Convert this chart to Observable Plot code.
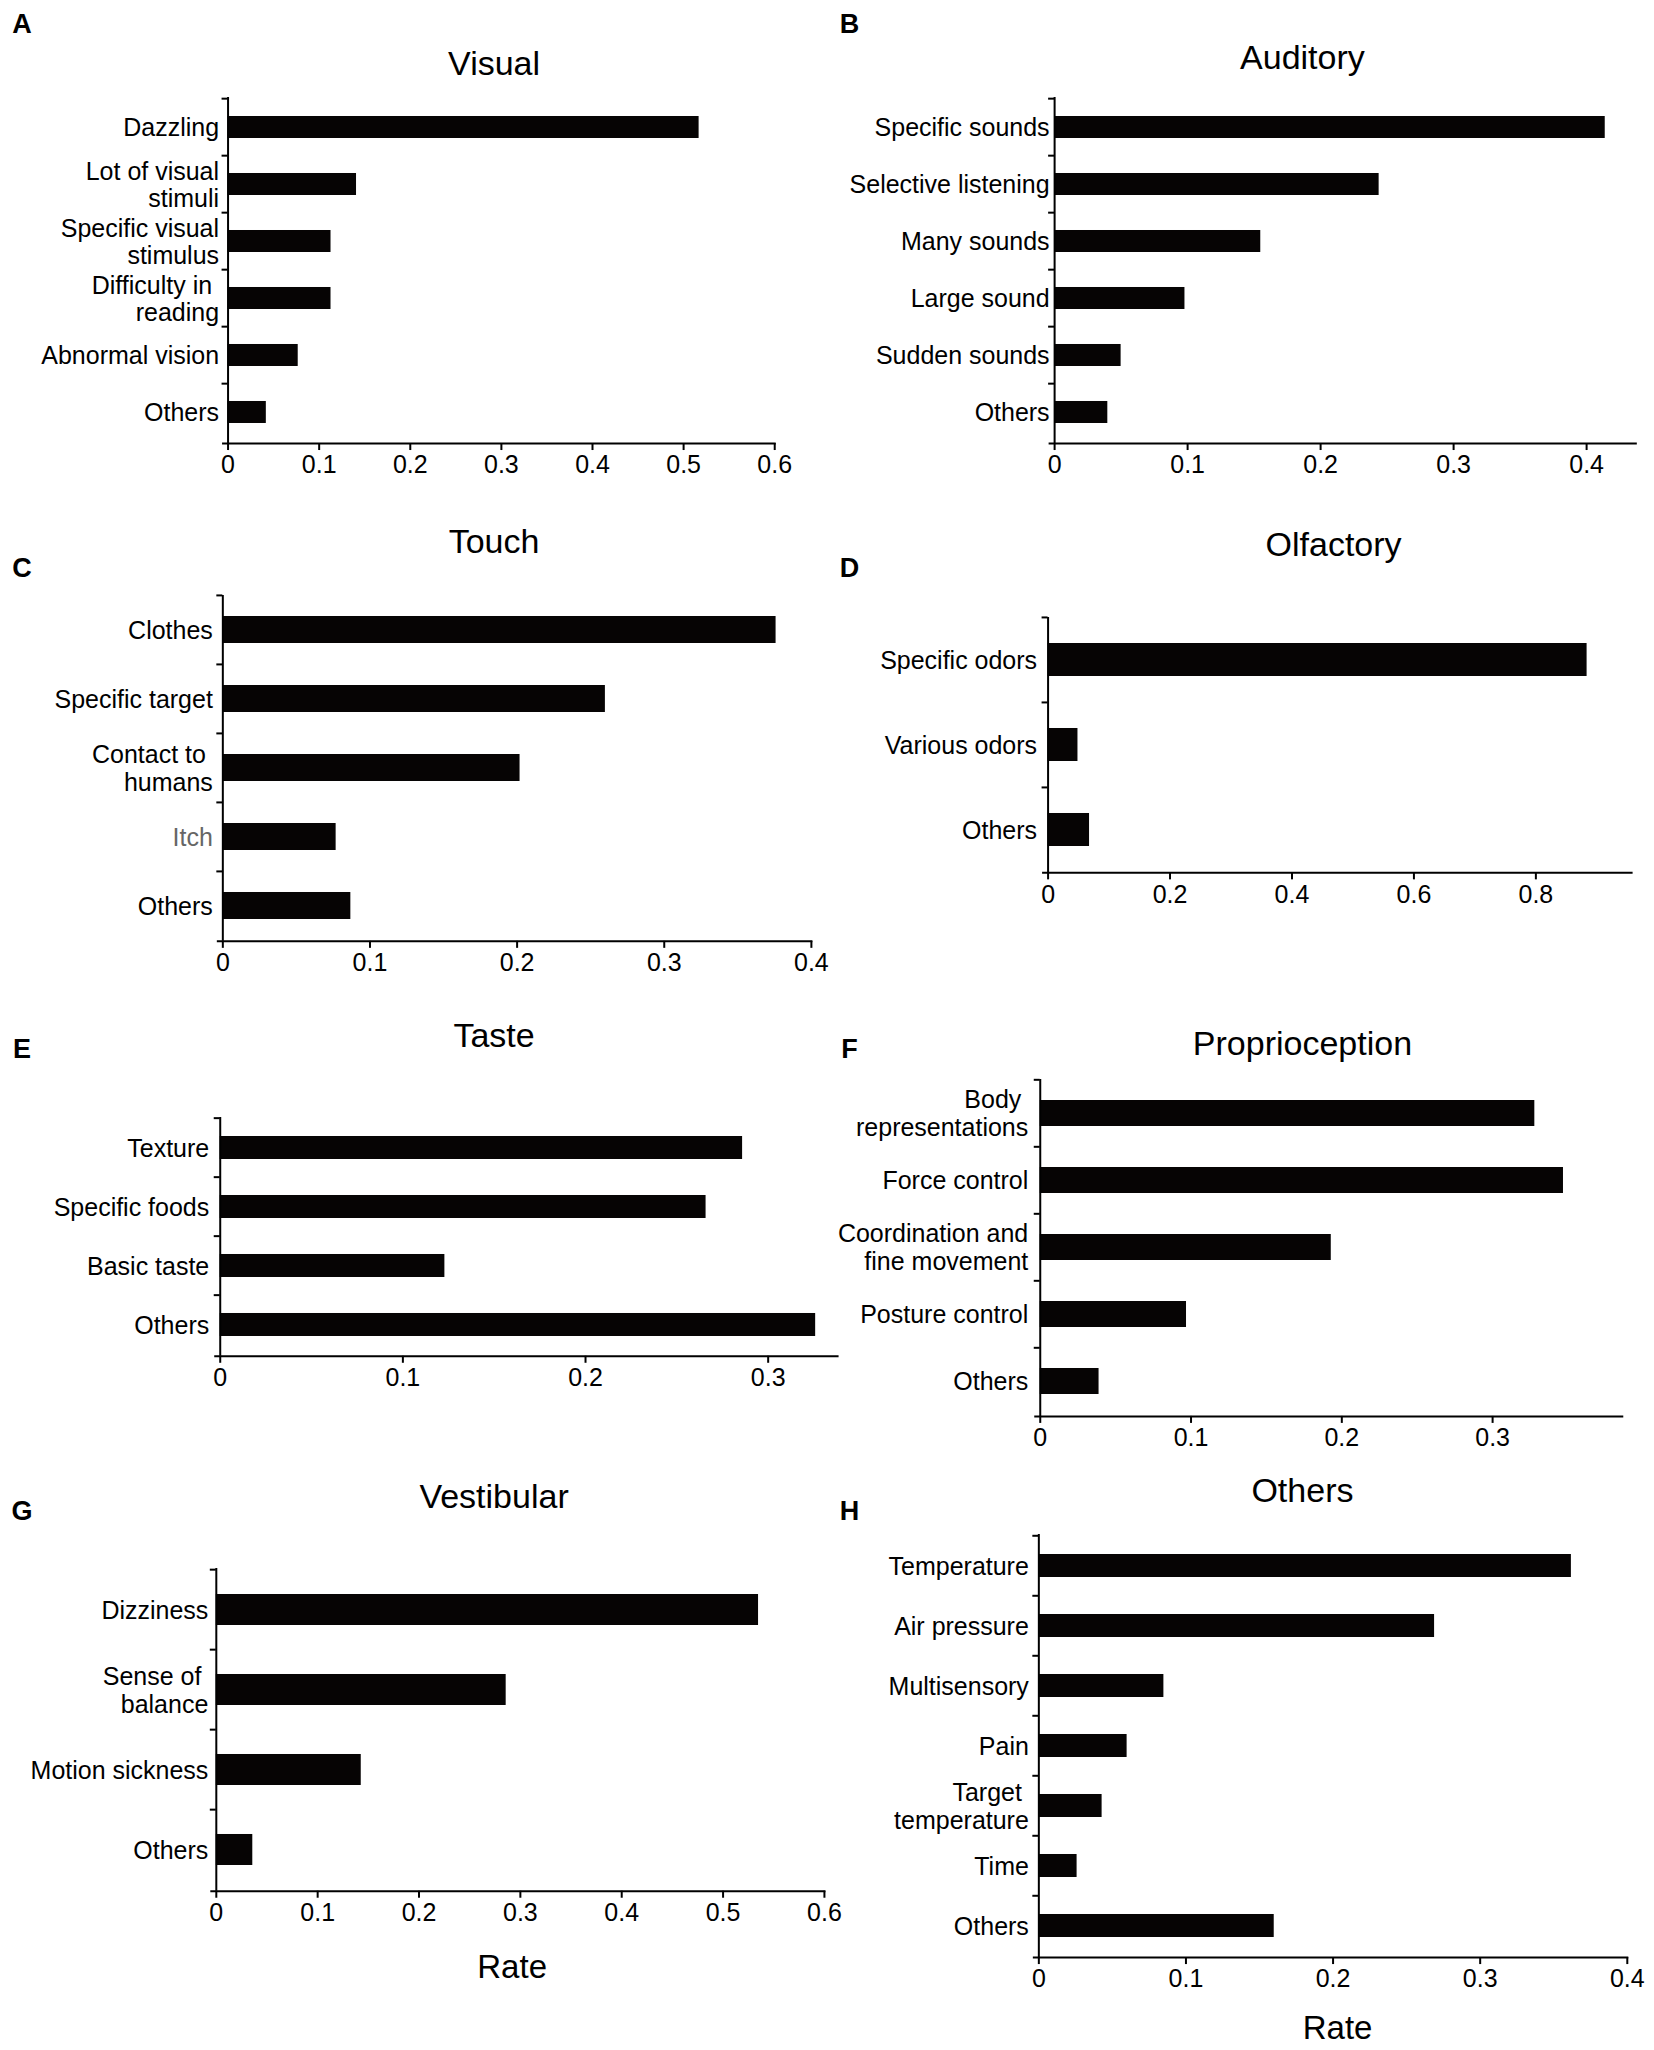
<!DOCTYPE html>
<html><head><meta charset="utf-8">
<script src="https://cdn.jsdelivr.net/npm/d3@7"></script>
<script src="https://cdn.jsdelivr.net/npm/@observablehq/plot@0.6"></script>
<style>
body{margin:0;background:#fff;}
#fig{position:relative;width:1654px;height:2050px;font-family:"Liberation Sans",Arial,sans-serif;color:#000;overflow:hidden;}
.plot{position:absolute;overflow:visible;}
.title{position:absolute;transform:translate(-50%,-50%);font-size:34px;white-space:nowrap;line-height:1;}
.letter{position:absolute;transform:translate(-50%,-50%);font-size:27px;font-weight:bold;line-height:1;}
.xlabel{position:absolute;transform:translate(-50%,-50%);font-size:33px;white-space:nowrap;line-height:1;}
</style></head><body><div id="fig"></div><script>
// ---- data ----
const visualLabels = ["Dazzling", "Lot of visual\nstimuli", "Specific visual\nstimulus", "Difficulty in\u00a0\nreading", "Abnormal vision", "Others"];
const visualValues = [0.517, 0.141, 0.113, 0.113, 0.077, 0.042];
const visualTicks = [0, 0.1, 0.2, 0.3, 0.4, 0.5, 0.6];

const auditoryLabels = ["Specific sounds", "Selective listening", "Many sounds", "Large sound", "Sudden sounds", "Others"];
const auditoryValues = [0.414, 0.244, 0.155, 0.098, 0.050, 0.040];
const auditoryTicks = [0, 0.1, 0.2, 0.3, 0.4];

const touchLabels = ["Clothes", "Specific target", "Contact to\u00a0\nhumans", "Itch", "Others"];
const touchValues = [0.376, 0.260, 0.202, 0.077, 0.087];
const touchTicks = [0, 0.1, 0.2, 0.3, 0.4];

const olfactoryLabels = ["Specific odors", "Various odors", "Others"];
const olfactoryValues = [0.884, 0.049, 0.068];
const olfactoryTicks = [0, 0.2, 0.4, 0.6, 0.8];

const tasteLabels = ["Texture", "Specific foods", "Basic taste", "Others"];
const tasteValues = [0.286, 0.266, 0.123, 0.326];
const tasteTicks = [0, 0.1, 0.2, 0.3];

const proprioLabels = ["Body\u00a0\nrepresentations", "Force control", "Coordination and\nfine movement", "Posture control", "Others"];
const proprioValues = [0.328, 0.347, 0.193, 0.097, 0.039];
const proprioTicks = [0, 0.1, 0.2, 0.3];

const vestibularLabels = ["Dizziness", "Sense of\u00a0\nbalance", "Motion sickness", "Others"];
const vestibularValues = [0.535, 0.286, 0.143, 0.036];
const vestibularTicks = [0, 0.1, 0.2, 0.3, 0.4, 0.5, 0.6];

const othersLabels = ["Temperature", "Air pressure", "Multisensory", "Pain", "Target\u00a0\ntemperature", "Time", "Others"];
const othersValues = [0.362, 0.269, 0.085, 0.060, 0.043, 0.026, 0.160];
const othersTicks = [0, 0.1, 0.2, 0.3, 0.4];

// ---- layout (pixel positions, scaled by S) ----
const S = 1.0042;
const panels = [
  {letter:"A", title:"Visual", labels:visualLabels, values:visualValues, ticks:visualTicks, max:0.6,
   col:0, x0:226.6, xEnd:771, top:96.4, bottom:441, lh:1.1, pad:9, tx:492, ty:63, lx:22, ly:24},
  {letter:"B", title:"Auditory", labels:auditoryLabels, values:auditoryValues, ticks:auditoryTicks, max:0.437,
   col:827, x0:1049.7, xEnd:1628.5, top:96.4, bottom:441, lh:1.1, pad:5, tx:1297, ty:57, lx:846, ly:24},
  {letter:"C", title:"Touch", labels:touchLabels, values:touchValues, ticks:touchTicks, max:0.4,
   col:0, x0:221.4, xEnd:807.5, top:592.6, bottom:937, lh:1.1, pad:10, tx:492, ty:539, lx:22, ly:566},
  {letter:"D", title:"Olfactory", labels:olfactoryLabels, values:olfactoryValues, ticks:olfactoryTicks, max:0.957,
   col:827, x0:1043.2, xEnd:1624.3, top:614.7, bottom:869, lh:1.1, pad:11, tx:1328, ty:542, lx:846, ly:566},
  {letter:"E", title:"Taste", labels:tasteLabels, values:tasteValues, ticks:tasteTicks, max:0.338,
   col:0, x0:218.8, xEnd:833.6, top:1112.2, bottom:1350, lh:1.1, pad:11, tx:492, ty:1031, lx:22, ly:1045},
  {letter:"F", title:"Proprioception", labels:proprioLabels, values:proprioValues, ticks:proprioTicks, max:0.386,
   col:827, x0:1035.4, xEnd:1615, top:1074.5, bottom:1410, lh:1.12, pad:12, tx:1297, ty:1039, lx:846, ly:1045},
  {letter:"G", title:"Vestibular", labels:vestibularLabels, values:vestibularValues, ticks:vestibularTicks, max:0.6,
   col:0, x0:214.9, xEnd:820.5, top:1561.6, bottom:1883, lh:1.1, pad:8, tx:492, ty:1490, lx:22, ly:1505, rate:[510, 1958]},
  {letter:"H", title:"Others", labels:othersLabels, values:othersValues, ticks:othersTicks, max:0.4,
   col:827, x0:1034, xEnd:1620, top:1527.7, bottom:1949, lh:1.1, pad:10, tx:1297, ty:1484, lx:846, ly:1505, rate:[1332, 2019]}
];

const fig = document.getElementById("fig");
const fmt = d => d === 0 ? "0" : d3.format(".1f")(d);
const FONT = '"Liberation Sans", Arial, sans-serif';

function addText(cls, txt, x, y) {
  const el = document.createElement("div");
  el.className = cls; el.textContent = txt;
  el.style.left = (x * S) + "px"; el.style.top = (y * S) + "px";
  fig.appendChild(el);
}

for (const p of panels) {
  const data = p.labels.map((l, i) => ({label: l, value: p.values[i]}));
  const col = p.col;
  const x0 = p.x0 * S, xEnd = p.xEnd * S, top = p.top * S, bottom = p.bottom * S;
  const mt = 10, mb = 50, mr = 40;
  const ml = x0 - col;
  const width = xEnd - col + mr;
  const innerH = bottom - top;
  const height = innerH + mt + mb;
  const step = innerH / p.labels.length;
  const chart = Plot.plot({
    width, height, marginLeft: ml, marginRight: mr, marginTop: mt, marginBottom: mb,
    style: {fontFamily: FONT, fontSize: "24px", color: "#000", background: "transparent", overflow: "visible"},
    x: {domain: [0, p.max]},
    y: {domain: p.labels, paddingInner: 0.61, paddingOuter: 0.305},
    marks: [
      Plot.barX(data, {x: "value", y: "label", fill: "#060404"}),
      Plot.ruleX([0], {stroke: "#000", strokeWidth: 2}),
      Plot.frame({anchor: "bottom", stroke: "#000", strokeWidth: 2, insetLeft: -5}),
      Plot.axisX({ticks: p.ticks, tickSize: 7, tickPadding: 5, tickFormat: fmt, fontSize: 25, label: null, strokeWidth: 2}),
      Plot.axisY({tickSize: 6, tickFormat: () => "", dy: -step / 2, label: null, strokeWidth: 2}),
      Plot.axisY({tickSize: 0, tickPadding: p.pad, fontSize: 25, lineHeight: p.lh, label: null})
    ]
  });
  chart.classList.add("plot");
  chart.style.left = col + "px";
  chart.style.top = (top - mt) + "px";
  const sel = d3.select(chart);
  sel.selectAll("text").filter(function() { return this.textContent === ""; }).remove();
  sel.selectAll("text").filter(function() { return this.textContent === "Itch"; }).attr("fill", "#666");
  fig.appendChild(chart);
  addText("title", p.title, p.tx, p.ty);
  addText("letter", p.letter, p.lx, p.ly);
  if (p.rate) addText("xlabel", "Rate", p.rate[0], p.rate[1]);
}
</script></body></html>
